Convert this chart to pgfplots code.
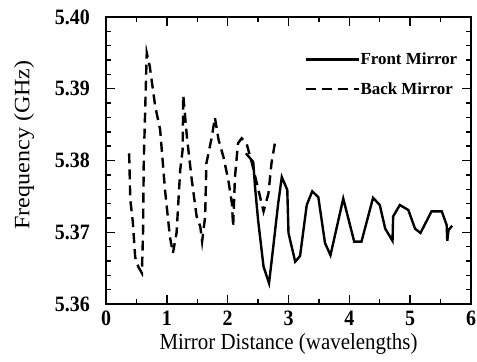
\documentclass[border=0pt]{standalone}
\usepackage{fontspec}
\setmainfont{Liberation Serif}
\usepackage{pgfplots}
\pgfplotsset{compat=1.18}
\begin{document}
\begin{tikzpicture}
\begin{axis}[
  scale only axis, width=365bp, height=287bp,
  at={(0,0)}, anchor=south west,
  xmin=0, xmax=6, ymin=5.36, ymax=5.40,
  xtick={0,1,2,3,4,5,6}, xticklabels={0,1,2,3,4,5,6},
  ytick={5.36,5.37,5.38,5.39,5.40}, yticklabels={5.36,5.37,5.38,5.39,5.40},
  minor x tick num=1, minor y tick num=4,
  tick align=inside, major tick length=9bp, minor tick length=5bp,
  axis line style={line width=1.7bp},
  every tick/.style={line width=1.4bp, black},
  ticklabel style={font=\fontsize{20}{24}\selectfont\bfseries, inner sep=0pt, yscale=1.1},
  xticklabel style={anchor=north, yshift=-6bp},
  yticklabel style={anchor=east, xshift=-16bp},
  xlabel={Mirror Distance (wavelengths)},
  ylabel={Frequency (GHz)},
  xlabel style={font=\fontsize{21}{25}\selectfont, at={(axis description cs:0.5,-0.160)}, anchor=base, yscale=1.1},
  ylabel style={font=\fontsize{22}{26}\selectfont, at={(axis description cs:-0.2096,0.554)}, anchor=base, xscale=1.1},
  legend image code/.code={\draw[#1] (0bp,0bp) -- (53bp,0bp);},
  legend style={draw=none, fill=none, at={(axis cs:3.27,5.3950)}, anchor=north west,
    inner sep=0pt, row sep=16bp, font=\fontsize{17}{20}\selectfont\bfseries,
    nodes={inner sep=0pt}},
  legend cell align=left,
]
\addplot[black, line width=2.4bp] coordinates {
(2.30,5.3810) (2.42,5.3798) (2.45,5.3763) (2.50,5.3717) (2.59,5.3652)
(2.68,5.3629) (2.75,5.3680) (2.83,5.3740) (2.89,5.3777) (2.98,5.3759)
(3.00,5.3699) (3.11,5.3659) (3.19,5.3667) (3.30,5.3738) (3.39,5.3757)
(3.49,5.3749) (3.60,5.3685) (3.69,5.3668) (3.90,5.3747) (4.08,5.3687)
(4.20,5.3687) (4.39,5.3748) (4.50,5.3738) (4.59,5.3705) (4.71,5.3688)
(4.72,5.3722) (4.83,5.3738) (4.97,5.3731) (5.08,5.3705) (5.17,5.3699)
(5.35,5.3729) (5.52,5.3729) (5.60,5.3710) (5.61,5.3688) (5.63,5.3703)
(5.69,5.3709)
};
\addlegendentry{Front Mirror}
\addplot[black, line width=2.4bp, dash pattern=on 10bp off 6bp] coordinates {
(0.38,5.3810) (0.40,5.3745) (0.44,5.3715) (0.48,5.3665) (0.53,5.3652)
(0.59,5.3643) (0.61,5.3703) (0.62,5.3796) (0.65,5.3889) (0.67,5.3950)
(0.72,5.3931) (0.75,5.3912) (0.81,5.3875) (0.89,5.3843) (0.97,5.3759)
(1.05,5.3694) (1.10,5.3671) (1.16,5.3699) (1.22,5.3787) (1.26,5.3815)
(1.27,5.3891) (1.33,5.3833) (1.41,5.3773) (1.49,5.3722) (1.55,5.3708)
(1.58,5.3687) (1.63,5.3722) (1.65,5.3796) (1.74,5.3833) (1.79,5.3860)
(1.85,5.3829) (1.93,5.3805) (2.01,5.3773) (2.07,5.3740) (2.09,5.3708)
(2.12,5.3777) (2.17,5.3824) (2.23,5.3831) (2.31,5.3824) (2.40,5.3796)
(2.48,5.3768) (2.59,5.3729) (2.67,5.3754) (2.72,5.3796) (2.79,5.3831)
};
\addlegendentry{Back Mirror}
\end{axis}
\pgfresetboundingbox
\path[use as bounding box] (-106bp,-58bp) rectangle (371bp,304bp);
\end{tikzpicture}
\end{document}
